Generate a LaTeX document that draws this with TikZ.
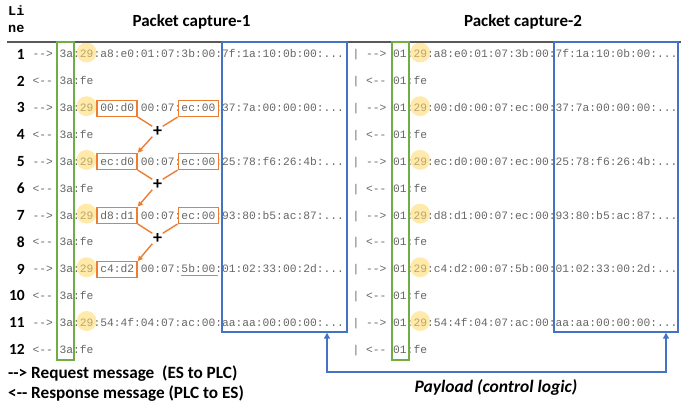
\documentclass[tikz,border=0pt]{standalone}
\usepackage{fontspec}
\usetikzlibrary{arrows.meta}
\newfontfamily\calb{Carlito}[Ligatures=TeXOff]
\newfontfamily\hexf{Liberation Mono}[Ligatures=TeXOff]
\definecolor{hexgray}{HTML}{666666}
\definecolor{orng}{HTML}{ED7D31}
\definecolor{gbox}{HTML}{70AD47}
\definecolor{bbox}{HTML}{4472C4}
\definecolor{ycirc}{HTML}{FFD966}
\definecolor{rulec}{HTML}{595959}
\begin{document}
\begin{tikzpicture}[x=1pt,y=-1pt,
  hex/.style={font=\hexf\fontsize{11.28pt}{13pt}\selectfont, text=hexgray, inner sep=0pt, anchor=base west},
  lnum/.style={font=\calb\bfseries\fontsize{15.5pt}{18pt}\selectfont, inner sep=0pt, anchor=base east},
  hdr/.style={font=\hexf\bfseries\fontsize{13.5pt}{15pt}\selectfont, inner sep=0pt, anchor=base west},
  title/.style={font=\calb\bfseries\fontsize{17pt}{20pt}\selectfont, inner sep=0pt, anchor=base},
  legend/.style={font=\calb\bfseries\fontsize{17.2pt}{18pt}\selectfont, inner sep=0pt, anchor=base west},
  ycirc/.style={circle, fill=ycirc, fill opacity=0.55, minimum size=20pt, inner sep=0pt},
  obox/.style={draw=orng, line width=1.4pt, minimum width=40pt, minimum height=16pt, inner sep=0pt},
  gframe/.style={draw=gbox, line width=1.4pt, inner sep=0pt},
  bframe/.style={draw=bbox, line width=1.4pt, inner sep=0pt},
  plus/.style={font=\calb\bfseries\fontsize{18pt}{18pt}\selectfont, minimum size=10pt, inner sep=0pt},
  oline/.style={draw=orng, line width=1.4pt},
  bline/.style={draw=bbox, line width=1.4pt},
]
\useasboundingbox (0,0) rectangle (681,406);

% header
\node[hdr] (li) at (8,15.5) {Li};
\node[hdr] (ne) at (8,32.5) {ne};
\node[title] (t1) at (191.5,27) {Packet capture-1};
\node[title] (t2) at (523,27) {Packet capture-2};

% line numbers
\node[lnum] (n1) at (25,59.3) {1};
\node[lnum] (n2) at (25,86.15) {2};
\node[lnum] (n3) at (25,113.0) {3};
\node[lnum] (n4) at (25,139.85) {4};
\node[lnum] (n5) at (25,166.7) {5};
\node[lnum] (n6) at (25,193.55) {6};
\node[lnum] (n7) at (25,220.4) {7};
\node[lnum] (n8) at (25,247.25) {8};
\node[lnum] (n9) at (25,274.1) {9};
\node[lnum] (n10) at (25,300.95) {10};
\node[lnum] (n11) at (25,327.8) {11};
\node[lnum] (n12) at (25,354.65) {12};

% capture 1
\node[hex] (l1) at (32.4,58.0) {--> 3a:29:a8:e0:01:07:3b:00:7f:1a:10:0b:00:...};
\node[hex] (l2) at (32.4,84.85) {<-- 3a:fe};
\node[hex] (l3) at (32.4,111.7) {--> 3a:29:00:d0:00:07:ec:00:37:7a:00:00:00:...};
\node[hex] (l4) at (32.4,138.55) {<-- 3a:fe};
\node[hex] (l5) at (32.4,165.4) {--> 3a:29:ec:d0:00:07:ec:00:25:78:f6:26:4b:...};
\node[hex] (l6) at (32.4,192.25) {<-- 3a:fe};
\node[hex] (l7) at (32.4,219.1) {--> 3a:29:d8:d1:00:07:ec:00:93:80:b5:ac:87:...};
\node[hex] (l8) at (32.4,245.95) {<-- 3a:fe};
\node[hex] (l9) at (32.4,272.8) {--> 3a:29:c4:d2:00:07:5b:00:01:02:33:00:2d:...};
\node[hex] (l10) at (32.4,299.65) {<-- 3a:fe};
\node[hex] (l11) at (32.4,326.5) {--> 3a:29:54:4f:04:07:ac:00:aa:aa:00:00:00:...};
\node[hex] (l12) at (32.4,353.35) {<-- 3a:fe};

% capture 2
\node[hex] (r1) at (352.4,58.0) {| --> 01:29:a8:e0:01:07:3b:00:7f:1a:10:0b:00:...};
\node[hex] (r2) at (352.4,84.85) {| <-- 01:fe};
\node[hex] (r3) at (352.4,111.7) {| --> 01:29:00:d0:00:07:ec:00:37:7a:00:00:00:...};
\node[hex] (r4) at (352.4,138.55) {| <-- 01:fe};
\node[hex] (r5) at (352.4,165.4) {| --> 01:29:ec:d0:00:07:ec:00:25:78:f6:26:4b:...};
\node[hex] (r6) at (352.4,192.25) {| <-- 01:fe};
\node[hex] (r7) at (352.4,219.1) {| --> 01:29:d8:d1:00:07:ec:00:93:80:b5:ac:87:...};
\node[hex] (r8) at (352.4,245.95) {| <-- 01:fe};
\node[hex] (r9) at (352.4,272.8) {| --> 01:29:c4:d2:00:07:5b:00:01:02:33:00:2d:...};
\node[hex] (r10) at (352.4,299.65) {| <-- 01:fe};
\node[hex] (r11) at (352.4,326.5) {| --> 01:29:54:4f:04:07:ac:00:aa:aa:00:00:00:...};
\node[hex] (r12) at (352.4,353.35) {| <-- 01:fe};

% yellow highlights
\foreach \y [count=\k] in {52.5,106.2,159.9,213.6,267.3,321.0} {
  \node[ycirc] (cl\k) at (86.6,\y) {};
  \node[ycirc] (cr\k) at (420.1,\y) {};
}

% rule
\draw[rulec, line width=1.3pt] (7,42) -- (681,42);

% green frames
\node[gframe, minimum width=17pt, minimum height=318pt] (g1) at (65.5,201) {};
\node[gframe, minimum width=17pt, minimum height=318pt] (g2) at (400.5,201) {};

% blue frames
\node[bframe, minimum width=125pt, minimum height=290pt] (pay1) at (284.5,187) {};
\node[bframe, minimum width=124pt, minimum height=290pt] (pay2) at (616,187) {};

% orange boxes
\node[obox] (a3) at (117.05,108.4) {};
\node[obox] (b3) at (198.3,108.4) {};
\node[obox] (a5) at (117.05,161.4) {};
\node[obox] (b5) at (198.3,161.4) {};
\node[obox] (a7) at (117.05,215.3) {};
\node[obox] (b7) at (198.3,215.3) {};
\node[obox] (a9) at (117.05,269.8) {};
\draw[oline] (181,275.5) -- (218,275.5);

% plus signs
\node[plus] (p1) at (157.5,131.5) {+};
\node[plus] (p2) at (157.5,184.5) {+};
\node[plus] (p3) at (157.5,238.5) {+};

\draw[oline] (a3.south east) -- (p1.north west);
\draw[oline] (b3.south west) -- (p1.north east);
\draw[oline, -{Triangle[length=5pt,width=5pt]}] (p1.south west) -- (a5.north east);
\draw[oline] (a5.south east) -- (p2.north west);
\draw[oline] (b5.south west) -- (p2.north east);
\draw[oline, -{Triangle[length=5pt,width=5pt]}] (p2.south west) -- (a7.north east);
\draw[oline] (a7.south east) -- (p3.north west);
\draw[oline] (b7.south west) -- (p3.north east);
\draw[oline, -{Triangle[length=5pt,width=5pt]}] (p3.south west) -- (a9.north east);

% payload arrow
\coordinate (k1) at (327,372);
\coordinate (k2) at (666,372);
\draw[bline, {Triangle[length=6pt,width=6pt]}-{Triangle[length=6pt,width=6pt]}]
  (pay1.south -| k1) -- (k1) -- (k2) -- (pay2.south -| k2);
\node[font=\calb\bfseries\itshape\fontsize{17.5pt}{20pt}\selectfont, inner sep=0pt, anchor=base] (plab) at (496,392.5) {Payload (control logic)};

% legend
\node[legend] (lg1) at (8,378.5) {--> Request message~~(ES to PLC)};
\node[legend] (lg2) at (8,399) {<-- Response message (PLC to ES)};
\end{tikzpicture}
\end{document}
